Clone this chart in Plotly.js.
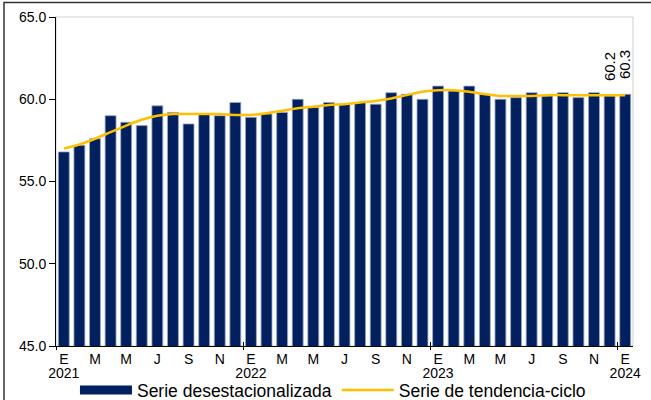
<!DOCTYPE html>
<html>
<head>
<meta charset="utf-8">
<script src="https://cdn.plot.ly/plotly-3.0.1.min.js"></script>
<style>
  html, body { margin: 0; padding: 0; background: #fff; }
  #plot { width: 651px; height: 400px; }
</style>
</head>
<body>
<div id="plot"></div>
<script>
// meses ene-2021 .. ene-2024
const meses = ['E','F','M','A','M','J','J','A','S','O','N','D'];
const anios = ['2021', '2022', '2023', '2024'];

// serie desestacionalizada
const desest = [
  56.8, 57.2, 57.6, 59.0, 58.6, 58.4, 59.6, 59.2, 58.5, 59.1, 59.0, 59.8,
  58.9, 59.1, 59.2, 60.0, 59.5, 59.8, 59.7, 59.8, 59.7, 60.4, 60.3, 60.0,
  60.8, 60.5, 60.8, 60.3, 60.0, 60.1, 60.4, 60.2, 60.4, 60.1, 60.4, 60.2,
  60.3
];

// serie de tendencia-ciclo
const tendencia = [
  57.0, 57.25, 57.6, 58.0, 58.4, 58.75, 59.0, 59.1, 59.1, 59.1, 59.1, 59.05,
  59.05, 59.15, 59.3, 59.45, 59.55, 59.65, 59.7, 59.8, 59.9, 60.05, 60.25, 60.45,
  60.55, 60.55, 60.45, 60.3, 60.2, 60.2, 60.2, 60.25, 60.25, 60.25, 60.25, 60.25,
  60.25
];

// etiquetas de los dos ultimos datos
const etiquetas = ['60.2', '60.3'];

const x = desest.map((v, i) => i);
const n = desest.length;

// ticks: una letra cada dos meses
const tickVals = [], tickText = [];
for (let i = 0; i < n; i += 2) {
  tickVals.push(i);
  tickText.push(meses[i % 12]);
}
// años debajo de enero, y separadores de año
const anioVals = [], sepAnio = [];
for (let i = 0; i < n; i += 12) {
  anioVals.push(i);
  sepAnio.push(i - 0.5);
}

const NAVY = '#002060';
const GOLD = '#FFC000';
const fuente = "'Liberation Sans', Arial, sans-serif";

const barras = {
  type: 'bar',
  x: x,
  y: desest,
  marker: { color: NAVY, line: { color: '#9AA8C6', width: 0.8 } },
  showlegend: false,
  hoverinfo: 'y'
};

// entrada de leyenda para las barras (rectangulo ancho)
const leyBarras = {
  type: 'scatter',
  x: [null], y: [null],
  mode: 'lines',
  line: { color: NAVY, width: 9 },
  name: 'Serie desestacionalizada'
};

const linea = {
  type: 'scatter',
  x: x,
  y: tendencia,
  mode: 'lines',
  line: { color: GOLD, width: 2.5, shape: 'spline', smoothing: 0.8 },
  name: 'Serie de tendencia-ciclo'
};

// trazas vacias para que se dibujen los ejes secundarios
const vacias = ['x2', 'x3', 'x4'].map(ax => ({
  type: 'scatter', x: [null], y: [null], xaxis: ax, yaxis: 'y',
  mode: 'lines', showlegend: false, hoverinfo: 'skip'
}));

const anotaciones = etiquetas.map((t, k) => ({
  x: n - etiquetas.length + k,
  y: desest[n - etiquetas.length + k],
  text: t,
  textangle: -90,
  showarrow: false,
  xanchor: 'center',
  yanchor: 'bottom',
  yshift: 13,
  font: { family: fuente, size: 15, color: '#000' }
}));

const L = 56, R = 18, T = 17, B = 54, W = 651, H = 400;
const pw = W - L - R, ph = H - T - B;

const ejeSec = {
  overlaying: 'x', anchor: 'y', range: [-0.5, n - 0.5],
  showgrid: false, zeroline: false, showline: false
};

const layout = {
  width: W, height: H,
  margin: { l: L, r: R, t: T, b: B, autoexpand: false },
  paper_bgcolor: '#fff',
  plot_bgcolor: '#fff',
  font: { family: fuente, size: 14, color: '#000' },
  bargap: 0.3,
  xaxis: {
    range: [-0.5, n - 0.5],
    tickmode: 'array', tickvals: tickVals, ticktext: tickText,
    ticks: '', showgrid: false, zeroline: false,
    showline: true, linecolor: '#000', linewidth: 1,
    tickfont: { size: 14 }
  },
  xaxis2: Object.assign({}, ejeSec, {
    tickmode: 'array', tickvals: sepAnio, ticks: 'inside', ticklen: 4,
    tickcolor: '#000', showticklabels: false
  }),
  xaxis3: Object.assign({}, ejeSec, {
    tickmode: 'array', tickvals: sepAnio, ticks: 'outside', ticklen: 3,
    tickcolor: '#000', showticklabels: false
  }),
  xaxis4: Object.assign({}, ejeSec, {
    tickmode: 'array', tickvals: anioVals, ticktext: anios, ticks: '',
    ticklabelstandoff: 17, tickfont: { size: 14 }
  }),
  yaxis: {
    range: [45, 65], dtick: 5, tick0: 45, tickformat: '.1f',
    ticks: 'outside', ticklen: 6, tickcolor: '#000',
    showgrid: false, zeroline: false,
    showline: true, linecolor: '#000', linewidth: 1,
    tickfont: { size: 14 }
  },
  showlegend: true,
  legend: {
    orientation: 'h',
    x: 0.48, xanchor: 'center',
    y: -44 / ph, yanchor: 'middle',
    font: { family: fuente, size: 17.5, color: '#000' },
    itemwidth: 52,
    bgcolor: 'rgba(0,0,0,0)'
  },
  annotations: anotaciones,
  shapes: [
    // borde gris del area de trazado
    { type: 'rect', xref: 'paper', yref: 'paper', x0: 0, x1: 1, y0: 0, y1: 1,
      line: { color: '#D0D0D0', width: 1 }, layer: 'below' },
    // marco exterior (izquierda y arriba)
    { type: 'path', xref: 'paper', yref: 'paper',
      path: 'M' + ((4 - L) / pw) + ',' + (-(B + 10) / ph) +
            ' L' + ((4 - L) / pw) + ',' + ((ph + T - 2.5) / ph) +
            ' L' + ((W + 10 - L) / pw) + ',' + ((ph + T - 2.5) / ph),
      line: { color: '#333', width: 1.5 } }
  ]
};

Plotly.newPlot('plot', [barras, leyBarras, linea].concat(vacias), layout,
  { displayModeBar: false, staticPlot: true });
</script>
</body>
</html>
